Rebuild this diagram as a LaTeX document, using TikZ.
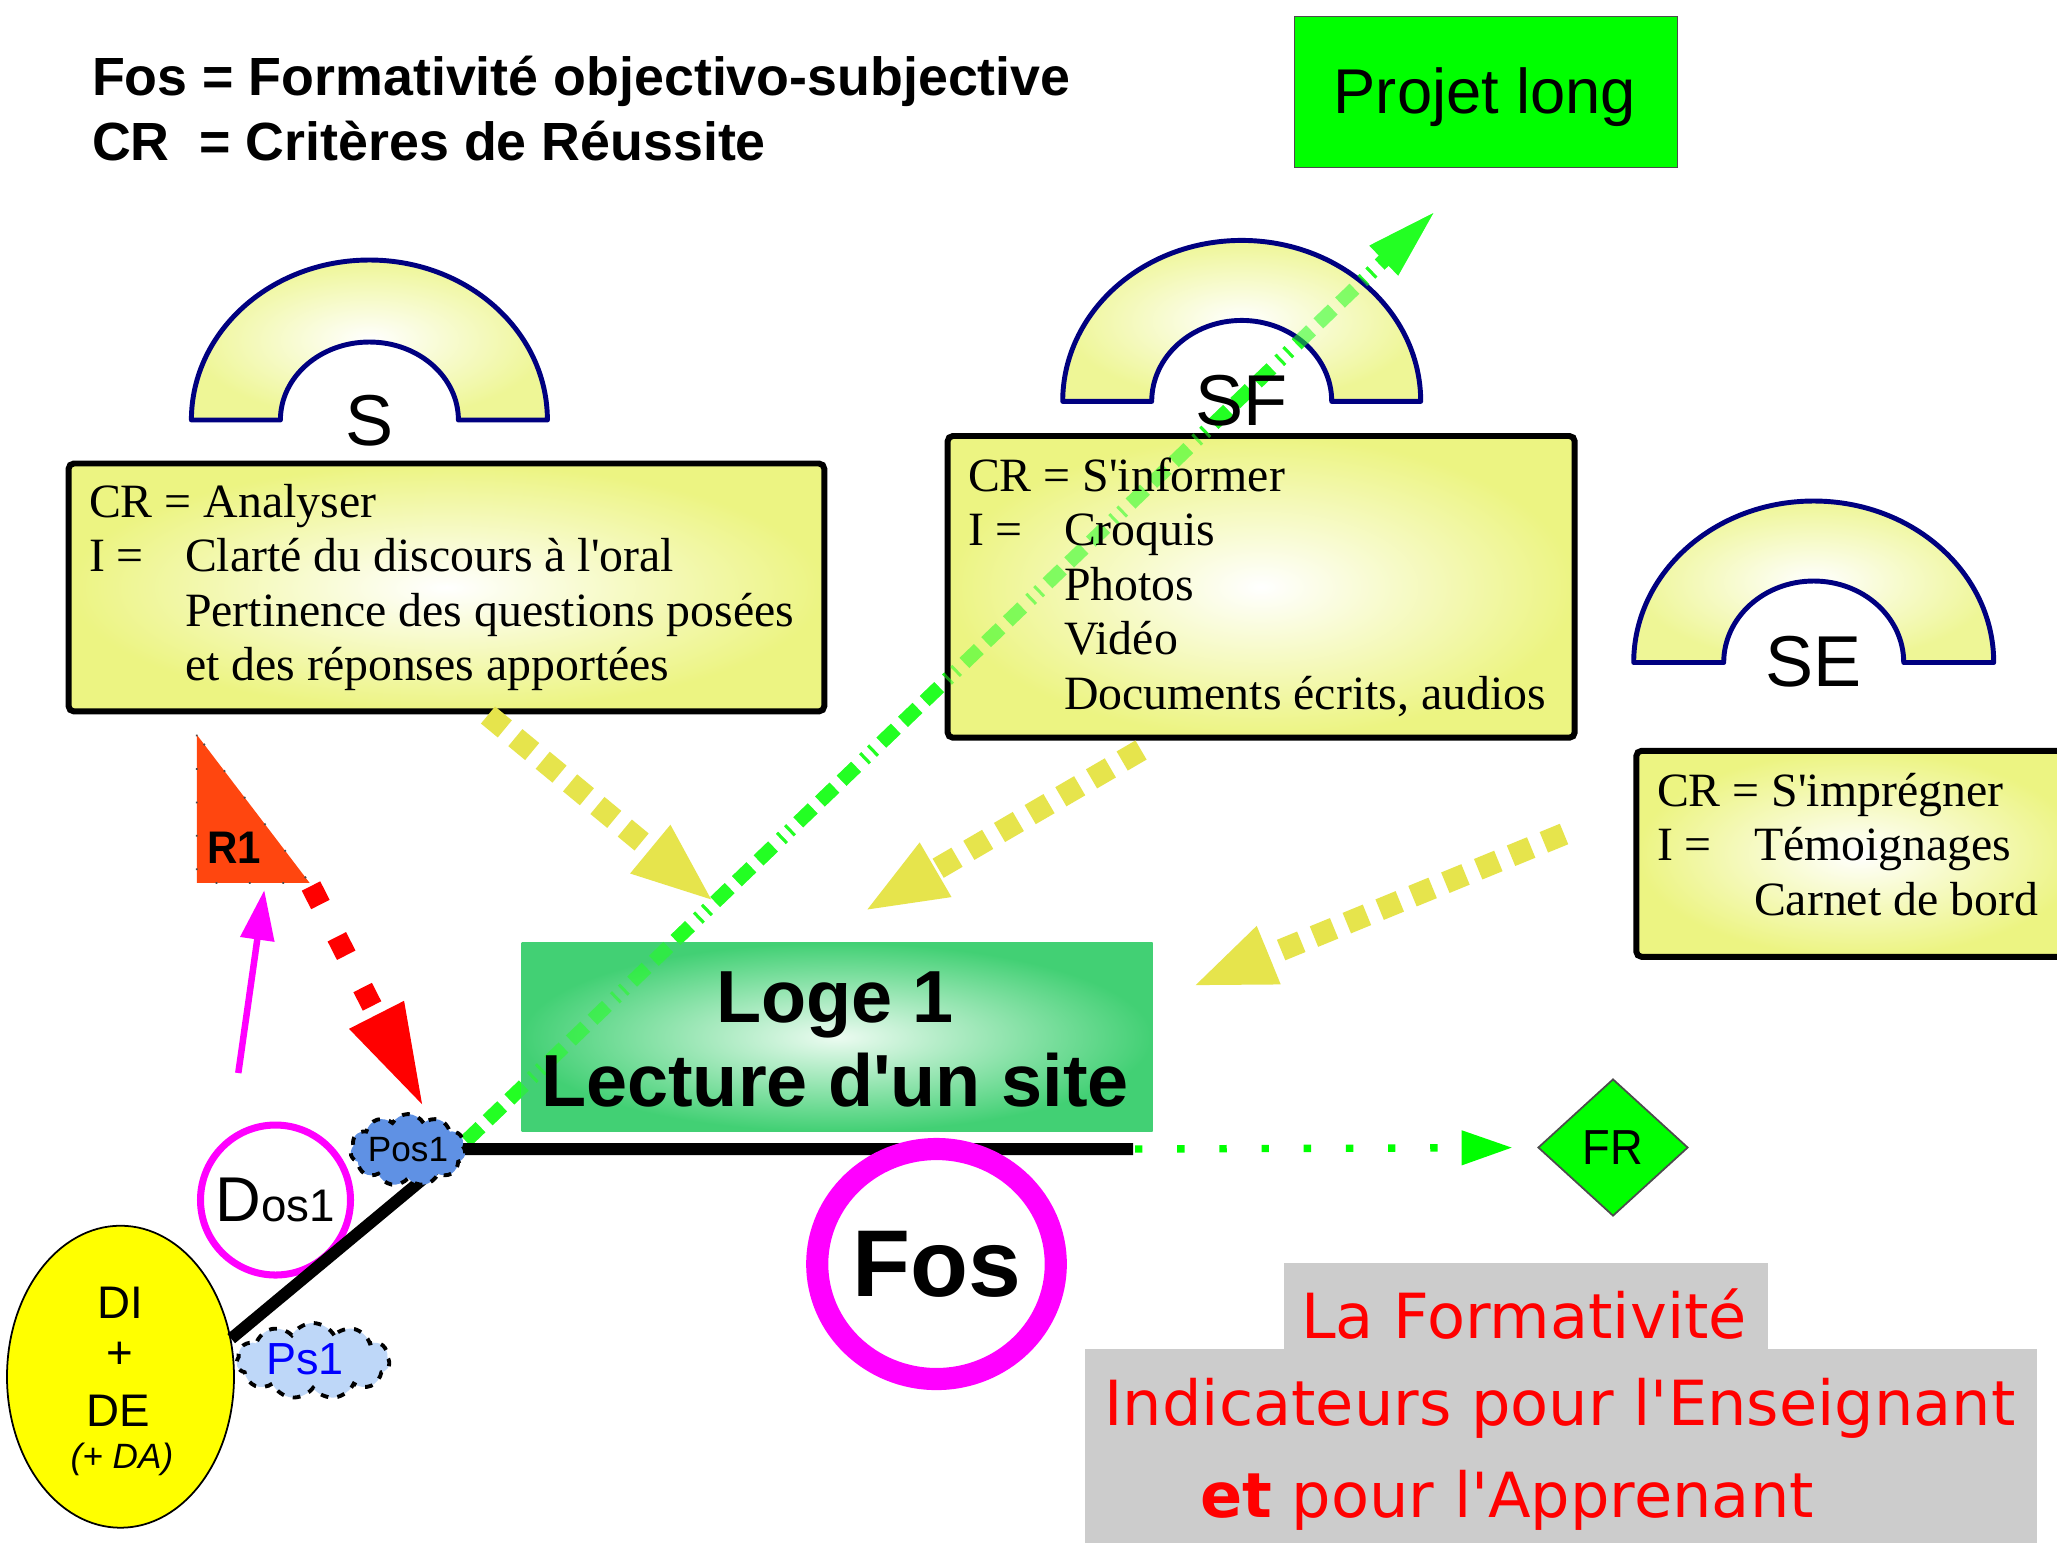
\documentclass[tikz,border=0pt]{standalone}
\usepackage{fontspec}
\setmainfont{Liberation Serif}[Ligatures=TeXOff]
\newfontfamily\arialf{Liberation Sans}[Ligatures=TeXOff]
\newfontfamily\arialn{Liberation Sans}[FakeStretch=0.92,Ligatures=TeXOff]
\newfontfamily\dejavu{DejaVu Sans}[Ligatures=TeXOff]
\usetikzlibrary{arrows.meta,shapes.geometric,shapes.symbols}
\definecolor{navyc}{RGB}{0,0,128}
\definecolor{boxyel}{RGB}{236,244,130}
\definecolor{archyel}{RGB}{238,246,150}
\definecolor{logegreen}{RGB}{66,208,116}
\definecolor{logelight}{RGB}{236,251,241}
\definecolor{arrowyel}{RGB}{230,228,76}
\definecolor{arrowgreen}{RGB}{35,255,35}
\definecolor{pgreen}{RGB}{0,255,0}
\definecolor{rorange}{RGB}{255,70,15}
\definecolor{magc}{RGB}{255,0,255}
\definecolor{greyc}{RGB}{204,204,204}
\definecolor{pos1c}{RGB}{95,145,228}
\definecolor{ps1c}{RGB}{190,215,248}
\definecolor{ditxt}{RGB}{255,255,0}
\begin{document}
\begin{tikzpicture}[x=0.1mm,y=-0.1mm,
  txt/.style={inner sep=0pt,outer sep=0pt},
  boxtxt/.style={txt,anchor=base west,font=\fontsize{13.6}{16}\selectfont},
  archlab/.style={txt,anchor=base,font=\arialf\fontsize{20.5}{24}\selectfont},
  yelbox/.style={draw=black,line width=1.7pt,rounded corners=1.5pt,inner color=white,outer color=boxyel,anchor=north west,inner sep=0pt},
  archsh/.style={draw=navyc,line width=1.4pt,line join=round,inner color=white,outer color=archyel},
  greybox/.style={anchor=north west,fill=greyc,inner sep=0pt},
  yarrow/.style={draw=arrowyel,line width=6.3pt,dash pattern=on 6.2pt off 3.9pt,-{Triangle[length=23.9pt,width=15.9pt]}},
  garrow/.style={draw=arrowgreen,line width=4pt,dash pattern=on 5.7pt off 2.85pt on 5.7pt off 2.85pt on 5.7pt off 3.1pt on 0.85pt off 2.3pt on 0.85pt off 2.85pt,-{Triangle[length=20.8pt,width=10.5pt]}},
  rarrow/.style={draw=red,line width=5.9pt,dash pattern=on 5.9pt off 10.3pt,-{Triangle[length=30.4pt,width=15.6pt]}},
  marrow/.style={draw=magc,line width=1.85pt,-{Triangle[length=14.2pt,width=9.4pt]}},
  gdot/.style={draw=pgreen,line width=2.1pt,dash pattern=on 2.1pt off 9.9pt,-{Triangle[length=14.5pt,width=9.4pt]}},
  cloudsh/.style={cloud,cloud puffs=11,cloud puff arc=120,cloud ignores aspect,draw=black,line width=1.1pt,dash pattern=on 2.2pt off 2.6pt,inner sep=0pt},
  redtxt/.style={txt,text=red,font=\dejavu\fontsize{17.7}{21}\selectfont}
]
\useasboundingbox (0,0) rectangle (2057,1542);
\clip (0,0) rectangle (2057,1542);
\fill[white] (0,0) rectangle (2057,1542);

% grey panels
\node[greybox,minimum width=48.4mm,minimum height=8.9mm] (grey1) at (1283,1262) {};
\node[greybox,minimum width=95.2mm,minimum height=19.6mm] (grey2) at (1084,1348) {};

% green long arrow (under layer)
\coordinate (gstart) at (466,1141);
\coordinate (gtip) at (1436.5,210);
\draw[garrow] (gstart) -- (gtip);

% arches
\path[archsh] (191.4,420) arc[start angle=180,end angle=360,x radius=178,y radius=160]
  -- (458.4,420) arc[start angle=360,end angle=180,x radius=89,y radius=78] -- cycle;
\path[archsh] (1062.7,401.4) arc[start angle=180,end angle=360,x radius=179,y radius=161]
  -- (1331.7,401.4) arc[start angle=360,end angle=180,x radius=90,y radius=81] -- cycle;
\path[archsh] (1633.7,662.5) arc[start angle=180,end angle=360,x radius=180,y radius=161.5]
  -- (1903.7,662.5) arc[start angle=360,end angle=180,x radius=90,y radius=81.5] -- cycle;

% boxes
\node[yelbox,minimum width=75.57mm,minimum height=24.79mm] (sbox) at (65.6,460.5) {};
\node[yelbox,minimum width=62.71mm,minimum height=30.17mm] (sfbox) at (944.6,433) {};
\node[yelbox,minimum width=44.67mm,minimum height=20.6mm] (sebox) at (1633.3,747.8) {};
\node[anchor=north west,inner sep=0pt,minimum width=63.1mm,minimum height=18.89mm,inner color=logelight,outer color=logegreen] (loge) at (520.8,942) {};
\node[anchor=north west,inner sep=0pt,draw=black!70,line width=0.5pt,fill=pgreen,minimum width=38.31mm,minimum height=15.09mm] (projet) at (1293.5,15.7) {};

% green long arrow (over layer, seen through boxes)
\draw[garrow,opacity=0.55] (gstart) -- (gtip);

% titles
\node[txt,anchor=base west,font=\arialf\bfseries\fontsize{15.3}{18}\selectfont] (t1) at (92,95) {Fos = Formativité objectivo-subjective};
\node[txt,anchor=base west,font=\arialf\bfseries\fontsize{15.3}{18}\selectfont] (t2) at (92,160) {CR\ \ = Critères de Réussite};
\node[txt,anchor=base,font=\arialf\fontsize{18}{22}\selectfont] (projt) at (1485,113) {Projet long};

% arch labels
\node[archlab] (slab) at (369.4,445) {S};
\node[archlab] (sflab) at (1241.7,425) {SF};
\node[archlab] (selab) at (1813.7,686) {SE};

% box texts
\node[boxtxt] (s1) at (89,517) {CR = Analyser};
\node[boxtxt] (s2) at (89,571.6) {I =};
\node[boxtxt] (s2b) at (185,571.6) {Clarté du discours à l'oral};
\node[boxtxt] (s3) at (185,626.2) {Pertinence des questions posées};
\node[boxtxt] (s4) at (185,680.8) {et des réponses apportées};

\node[boxtxt] (f1) at (968,491) {CR = S'informer};
\node[boxtxt] (f2) at (968,545.6) {I =};
\node[boxtxt] (f2b) at (1064,545.6) {Croquis};
\node[boxtxt] (f3) at (1064,600.2) {Photos};
\node[boxtxt] (f4) at (1064,654.8) {Vidéo};
\node[boxtxt] (f5) at (1064,709.4) {Documents écrits, audios};

\node[boxtxt] (e1) at (1657,806) {CR = S'imprégner};
\node[boxtxt] (e2) at (1657,860.6) {I =};
\node[boxtxt] (e2b) at (1754,860.6) {Témoignages};
\node[boxtxt] (e3) at (1754,915.2) {Carnet de bord};

% Loge text
\node[txt,anchor=base,font=\arialf\bfseries\fontsize{21}{25}\selectfont] (loget1) at (835,1022) {Loge 1};
\node[txt,anchor=base,font=\arialf\bfseries\fontsize{21}{25}\selectfont] (loget2) at (835,1106) {Lecture d'un site};

% yellow arrows
\coordinate (ya1) at (488,715);   \coordinate (ya2) at (715,902.6);
\coordinate (yb1) at (1141,750);  \coordinate (yb2) at (863,912);
\coordinate (yc1) at (1564,834);  \coordinate (yc2) at (1191,987);
\draw[yarrow] (ya1) -- (ya2);
\draw[yarrow] (yb1) -- (yb2);
\draw[yarrow] (yc1) -- (yc2);

% R1 triangle
\path[fill=rorange,draw=black!70,line width=0.5pt,dash pattern=on 0.5pt off 9pt]
  (196.8,734.7) coordinate (rA) -- (196.8,882.9) coordinate (rB) -- (309.6,882.9) coordinate (rC) -- cycle;
\node[txt,anchor=base,font=\arialn\bfseries\fontsize{13}{15}\selectfont] (r1) at (234,863) {R1};

% black line
\node[ellipse,draw=black,line width=0.5pt,fill=ditxt,minimum width=22.7mm,minimum height=30.2mm,inner sep=0pt] (di) at (120.5,1376.7) {};
\coordinate (corner) at (459,1149);
\coordinate (lend) at (1133,1149);
\node[circle,draw=magc,line width=2pt,minimum size=15mm,inner sep=0pt,font=\arialf] (dos) at (275.5,1200) {\fontsize{18}{20}\selectfont D\fontsize{13}{15}\selectfont os1};
\draw[line width=3.4pt] (di.19) -- (corner) -- (lend);

% red arrow and magenta arrow
\coordinate (rstart) at (311,886);
\coordinate (rtip) at (425,1110);
\draw[rarrow] (rstart) -- (rtip);
\coordinate (mstart) at (238.3,1073);
\coordinate (mtip) at (264.3,890);
\draw[marrow] (mstart) -- (mtip);

% FR diamond and dotted arrow
\node[diamond,fill=pgreen,draw=black!70,line width=0.5pt,minimum width=15mm,minimum height=13.7mm,inner sep=0pt,font=\arialn\fontsize{14}{16}\selectfont] (fr) at (1613,1147.5) {FR};
\coordinate (dstart) at (1135,1149);
\draw[gdot,shorten >=7pt] (dstart) -- (fr.west);

% Fos ring
\node[ellipse,draw=magc,line width=6.3pt,minimum width=23.6mm,minimum height=23mm,inner sep=0pt,font=\arialf\bfseries\fontsize{27}{30}\selectfont] (fos) at (936.5,1264) {Fos};

% DI text
\node[txt,anchor=base,font=\arialf\fontsize{13}{15}\selectfont] (dit1) at (120,1318) {DI};
\node[txt,anchor=center,font=\arialf\fontsize{13}{15}\selectfont] (dit2) at (120,1355) {+};
\node[txt,anchor=base,font=\arialf\fontsize{13}{15}\selectfont] (dit3) at (118,1426) {DE};
\node[txt,anchor=base,font=\arialf\itshape\fontsize{10}{12}\selectfont] (dit4) at (122,1468) {(+ DA)};

% clouds
\node[cloudsh,fill=ps1c,minimum width=15.3mm,minimum height=7.6mm] (ps1) at (313,1361) {};
\node[txt,text=blue,font=\arialf\fontsize{12.8}{14}\selectfont] (ps1t) at (305,1359) {Ps1};
\node[cloudsh,fill=pos1c,minimum width=11.5mm,minimum height=7.2mm,font=\arialf\fontsize{10}{12}\selectfont] (pos1) at (408,1150) {Pos1};

% red texts
\node[redtxt,anchor=base] (rt1) at (1524,1338) {La Formativité};
\node[redtxt,anchor=base west] (rt2) at (1104.6,1425) {Indicateurs pour l'Enseignant};
\node[redtxt,anchor=base west] (rt3) at (1200,1517) {{\bfseries et} pour l'Apprenant};
\end{tikzpicture}
\end{document}
